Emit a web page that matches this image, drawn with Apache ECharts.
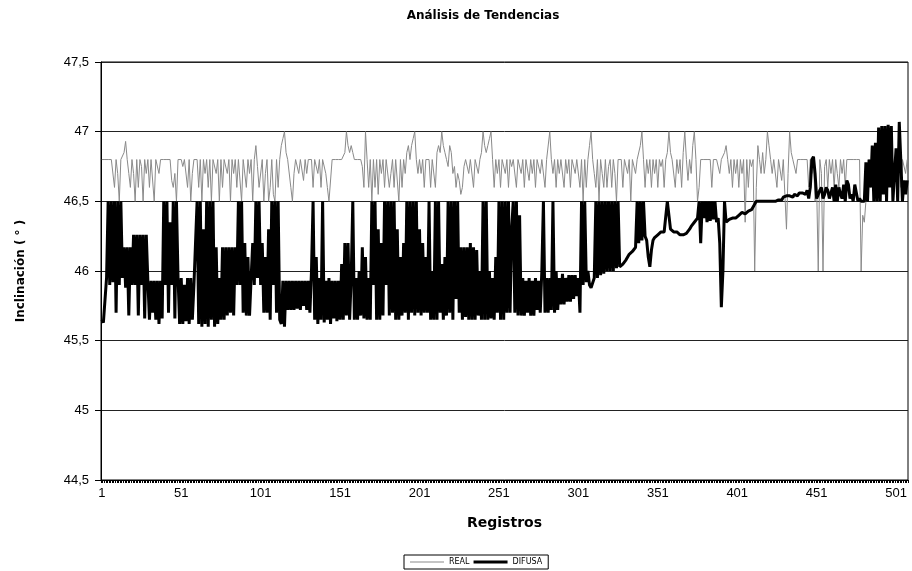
<!DOCTYPE html>
<html>
<head>
<meta charset="utf-8">
<script src="https://cdn.jsdelivr.net/npm/echarts@6/dist/echarts.min.js"></script>
<style>
  html, body { margin: 0; padding: 0; background: #fff; }
  #chart { width: 912px; height: 571px; }
</style>
</head>
<body>
<div id="chart"></div>
<script>
// record numbers 1..508 on the category axis
const categories = Array.from({ length: 508 }, (v, i) => String(i + 1));
const yTicks = [44.5, 45, 45.5, 46, 46.5, 47, 47.5];

// REAL series (gray, thin)
const real = [
  46.8,46.8,46.8,46.8,46.8,46.8,46.8,46.8,46.6,46.8,46.7,46.5,46.8,46.8,46.85,46.93,46.8,46.7,46.6,46.8,
  46.7,46.5,46.8,46.6,46.8,46.75,46.5,46.8,46.7,46.8,46.6,46.8,46.8,46.5,46.8,46.8,46.7,46.8,46.8,46.8,
  46.8,46.8,46.8,46.8,46.65,46.6,46.7,46.5,46.8,46.8,46.8,46.75,46.8,46.8,46.6,46.8,46.5,46.7,46.8,46.8,
  46.8,46.6,46.8,46.5,46.8,46.7,46.8,46.6,46.8,46.5,46.8,46.8,46.7,46.8,46.5,46.8,46.6,46.8,46.8,46.7,
  46.8,46.5,46.8,46.7,46.8,46.6,46.8,46.8,46.5,46.8,46.8,46.6,46.8,46.7,46.8,46.5,46.8,46.9,46.75,46.6,
  46.6,46.8,46.5,46.7,46.8,46.5,46.6,46.8,46.55,46.5,46.8,46.6,46.8,46.9,46.95,47.0,46.85,46.8,46.8,46.6,
  46.5,46.7,46.8,46.8,46.7,46.8,46.8,46.65,46.8,46.7,46.8,46.8,46.8,46.6,46.8,46.8,46.7,46.8,46.6,46.8,
  46.8,46.7,46.6,46.5,46.5,46.8,46.8,46.8,46.8,46.8,46.8,46.8,46.8,46.85,47.0,46.9,46.85,46.9,46.85,46.8,
  46.8,46.8,46.8,46.8,46.75,46.6,47.0,46.8,46.6,46.8,46.5,46.8,46.6,46.8,46.55,46.8,46.7,46.8,46.6,46.8,
  46.8,46.6,46.7,46.8,46.6,46.8,46.8,46.5,46.8,46.6,46.8,46.7,46.85,46.9,46.8,46.9,46.95,47.0,46.8,46.7,
  46.8,46.7,46.8,46.6,46.8,46.8,46.8,46.6,46.8,46.8,46.6,46.85,46.9,46.85,47.0,46.9,46.85,46.8,46.75,46.9,
  46.85,46.7,46.75,46.6,46.7,46.65,46.55,46.6,46.75,46.8,46.8,46.7,46.8,46.8,46.6,46.8,46.8,46.7,46.8,46.85,
  47.0,46.9,46.85,46.9,46.95,47.0,46.8,46.6,46.8,46.7,46.8,46.6,46.8,46.8,46.7,46.8,46.6,46.8,46.75,46.8,
  46.8,46.6,46.8,46.8,46.7,46.8,46.6,46.8,46.8,46.65,46.8,46.7,46.8,46.6,46.8,46.8,46.7,46.8,46.8,46.6,
  46.8,46.8,47.0,46.8,46.7,46.8,46.6,46.8,46.7,46.8,46.8,46.6,46.8,46.7,46.8,46.6,46.8,46.8,46.7,46.8,
  46.8,46.6,46.8,46.5,46.8,46.6,46.8,46.9,47.0,46.8,46.7,46.6,46.8,46.5,46.8,46.7,46.6,46.8,46.6,46.75,
  46.8,46.6,46.8,46.7,46.5,46.8,46.8,46.8,46.6,46.8,46.8,46.7,46.8,46.5,46.8,46.8,46.7,46.8,46.8,46.9,
  47.0,46.8,46.6,46.8,46.7,46.8,46.6,46.8,46.7,46.8,46.6,46.8,46.75,46.8,46.6,46.8,46.85,47.0,46.85,46.8,
  46.8,46.6,46.8,46.7,46.8,46.6,46.85,47.0,46.8,46.65,46.8,46.7,46.9,47.0,46.8,46.5,46.6,46.8,46.8,46.8,
  46.8,46.8,46.8,46.8,46.6,46.8,46.8,46.8,46.8,46.7,46.8,46.8,46.85,46.9,46.8,46.7,46.8,46.6,46.8,46.7,
  46.8,46.6,46.8,46.7,46.8,46.35,46.8,46.6,46.8,46.75,46.8,46.0,46.6,46.9,46.8,46.7,46.85,46.7,46.8,47.0,
  46.9,46.8,46.7,46.8,46.8,46.6,46.8,46.8,46.65,46.8,46.8,46.3,46.7,47.0,46.85,46.8,46.8,46.7,46.8,46.8,
  46.8,46.8,46.8,46.8,46.8,46.6,46.8,46.7,46.8,46.5,46.6,46.0,46.8,46.7,46.0,46.75,46.8,46.6,46.8,46.7,
  46.8,46.6,46.8,46.7,46.6,46.8,46.7,46.8,46.6,46.8,46.8,46.8,46.8,46.8,46.8,46.8,46.8,46.8,46.0,46.4,
  46.35,46.5,46.6,46.8,46.6,46.8,46.7,46.8,46.6,46.8,46.8,46.7,46.8,46.6,46.8,46.8,46.7,46.8,46.6,46.8,
  46.8,46.7,46.8,46.6,46.8,46.8,46.7,46.8
];

// DIFUSA series (black, thick)
const difusa = [
  45.65,45.63,45.64,45.95,46.5,45.9,46.5,45.92,46.5,45.7,46.5,45.9,46.5,45.95,46.17,45.88,46.17,45.68,46.17,45.9,
  46.26,45.9,46.26,45.68,46.26,45.9,46.26,45.66,46.26,45.93,45.65,45.93,45.7,45.93,45.65,45.93,45.62,45.93,45.66,46.5,
  45.9,46.5,45.7,46.35,45.9,46.5,45.66,46.5,45.95,45.62,45.95,45.62,45.9,45.64,45.95,45.62,45.95,45.65,45.9,46.2,
  46.5,45.62,46.5,45.6,46.3,45.62,46.5,45.6,46.5,45.65,46.5,45.6,46.17,45.62,45.95,45.65,46.17,45.65,46.17,45.68,
  46.17,45.7,46.17,45.68,46.17,45.9,46.5,45.9,46.5,45.7,46.2,45.68,46.1,45.68,45.95,46.2,45.9,46.5,45.95,46.5,
  45.9,46.2,45.7,46.1,45.7,46.3,45.65,46.5,45.9,46.5,45.7,46.5,45.65,45.62,45.93,45.6,45.93,45.72,45.93,45.72,
  45.93,45.72,45.93,45.73,45.93,45.72,45.93,45.75,45.93,45.72,45.93,45.7,46.0,46.5,45.65,46.1,45.62,45.95,45.65,46.5,
  45.63,45.93,45.65,45.95,45.62,45.93,45.66,45.93,45.64,45.93,45.65,46.05,45.65,46.2,45.68,46.2,45.65,45.95,46.5,45.65,
  45.95,45.65,46.0,45.68,46.17,45.66,46.1,45.65,45.95,45.65,46.5,45.9,46.5,45.65,46.3,45.65,46.2,45.68,46.5,45.9,
  46.5,45.68,46.5,45.7,46.5,45.65,46.3,45.65,46.1,45.68,46.2,45.7,46.5,45.65,46.5,45.7,46.5,45.68,46.5,45.7,
  46.3,45.68,46.2,45.7,46.1,45.7,46.5,45.65,46.0,45.65,46.5,45.65,46.5,45.7,46.05,45.65,46.1,45.68,46.5,45.7,
  46.5,45.65,46.5,45.8,46.5,45.7,46.17,45.65,46.17,45.67,46.17,45.65,46.2,45.65,46.17,45.65,46.15,45.68,46.0,45.65,
  46.5,45.65,46.5,45.65,46.0,45.66,45.95,45.65,46.1,45.7,46.5,45.65,46.5,45.65,46.5,45.7,46.5,45.7,46.3,46.5,
  45.7,46.5,45.68,46.4,45.68,45.95,45.68,45.93,45.7,45.95,45.68,45.93,45.68,45.95,45.72,45.93,45.7,46.0,46.5,45.7,
  45.95,45.7,45.95,45.72,46.5,45.7,46.0,45.72,45.95,45.76,45.98,45.76,45.95,45.78,45.97,45.78,45.97,45.8,45.97,45.82,
  45.95,45.7,46.5,45.9,46.5,45.92,46.0,45.9,45.88,45.87,45.95,46.5,45.95,46.5,45.97,46.5,45.98,46.5,46.0,46.5,
  46.0,46.5,46.0,46.5,46.02,46.5,46.03,46.04,46.05,46.06,46.08,46.1,46.12,46.13,46.14,46.15,46.17,46.5,46.2,46.5,
  46.22,46.5,46.25,46.22,46.1,46.03,46.15,46.22,46.24,46.25,46.26,46.27,46.28,46.27,46.28,46.28,46.5,46.5,46.3,46.3,
  46.28,46.27,46.28,46.27,46.26,46.27,46.26,46.25,46.27,46.28,46.3,46.32,46.33,46.35,46.35,46.38,46.5,46.2,46.5,46.38,
  46.5,46.35,46.5,46.36,46.5,46.37,46.5,46.35,46.38,46.2,45.74,46.0,46.5,46.35,46.36,46.37,46.38,46.38,46.39,46.38,
  46.39,46.4,46.41,46.42,46.42,46.41,46.42,46.43,46.42,46.44,46.46,46.48,46.5,46.5,46.5,46.5,46.5,46.5,46.5,46.5,
  46.5,46.5,46.5,46.51,46.5,46.51,46.51,46.52,46.51,46.53,46.52,46.54,46.53,46.54,46.55,46.53,46.55,46.56,46.54,46.56,
  46.55,46.56,46.57,46.55,46.58,46.52,46.6,46.8,46.82,46.7,46.52,46.55,46.58,46.6,46.52,46.55,46.6,46.58,46.52,46.56,
  46.6,46.5,46.62,46.5,46.6,46.55,46.52,46.62,46.5,46.65,46.62,46.52,46.55,46.5,46.62,46.62,46.5,46.52,46.5,46.5,
  46.5,46.78,46.5,46.8,46.6,46.9,46.5,46.92,46.5,47.03,46.5,47.04,46.55,47.04,46.5,47.05,46.6,47.04,46.5,46.7,
  46.88,46.5,47.07,47.06,46.5,46.65,46.55,46.65
];

var chart = echarts.init(document.getElementById('chart'));

var option = {
    animation: false,
    backgroundColor: '#fff',
    title: {
        text: 'Análisis de Tendencias',
        left: 478,
        textAlign: 'center',
        top: 5,
        textStyle: {
            fontFamily: 'DejaVu Sans',
            fontSize: 12,
            fontWeight: 'bold',
            color: '#000'
        }
    },
    legend: {
        data: [
            { name: 'REAL', icon: 'path://M0,0h34v1h-34z', itemStyle: { color: '#8a8a8a' } },
            { name: 'DIFUSA', icon: 'path://M0,0h34v3h-34z', itemStyle: { color: '#000' } }
        ],
        left: 404,
        bottom: 2,
        itemWidth: 34,
        itemHeight: 6,
        itemGap: 4,
        symbolKeepAspect: true,
        padding: [3, 6, 3, 6],
        borderColor: '#000',
        borderWidth: 1,
        textStyle: {
            fontFamily: 'DejaVu Sans',
            fontSize: 8,
            color: '#000'
        }
    },
    grid: {
        left: 101,
        right: 4,
        top: 62,
        bottom: 91,
        show: true,
        borderColor: '#000',
        borderWidth: 1
    },
    xAxis: {
        type: 'category',
        data: categories,
        boundaryGap: true,
        name: 'Registros',
        nameLocation: 'middle',
        nameGap: 36,
        nameTextStyle: {
            fontFamily: 'DejaVu Sans',
            fontSize: 14,
            fontWeight: 'bold',
            color: '#000'
        },
        axisLine: { lineStyle: { color: '#000', width: 1 } },
        axisTick: {
            show: true,
            interval: 0,
            length: 3,
            lineStyle: { color: '#000' }
        },
        axisLabel: {
            interval: 49,
            margin: 7,
            fontFamily: 'Liberation Sans',
            fontSize: 13,
            color: '#000'
        },
        splitLine: { show: false }
    },
    yAxis: {
        type: 'value',
        min: yTicks[0],
        max: yTicks[yTicks.length - 1],
        interval: 0.5,
        name: 'Inclinación ( ° )',
        nameLocation: 'middle',
        nameGap: 74,
        nameTextStyle: {
            fontFamily: 'DejaVu Sans',
            fontSize: 12,
            fontWeight: 'bold',
            color: '#000'
        },
        axisLine: { show: true, lineStyle: { color: '#000', width: 1 } },
        axisTick: { show: true, length: 6, lineStyle: { color: '#000' } },
        axisLabel: {
            margin: 12,
            fontFamily: 'Liberation Sans',
            fontSize: 13,
            color: '#000',
            formatter: function (v) {
                return String(v).replace('.', ',');
            }
        },
        splitLine: { show: true, lineStyle: { color: '#222', width: 1 } }
    },
    series: [
        {
            name: 'REAL',
            type: 'line',
            data: real,
            symbol: 'none',
            lineStyle: { color: '#8a8a8a', width: 1 },
            itemStyle: { color: '#8a8a8a' }
        },
        {
            name: 'DIFUSA',
            type: 'line',
            data: difusa,
            symbol: 'none',
            lineStyle: { color: '#000', width: 3 },
            itemStyle: { color: '#000' }
        }
    ]
};

chart.setOption(option);
</script>
</body>
</html>
